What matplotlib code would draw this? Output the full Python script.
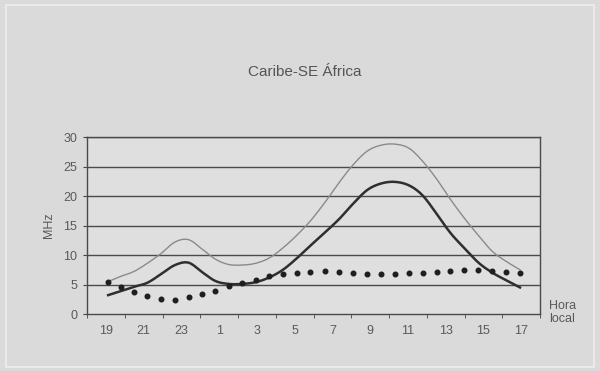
import numpy as np
import matplotlib
matplotlib.use("Agg")
import matplotlib.pyplot as plt
from matplotlib.patches import Rectangle

plt.rcParams['font.family'] = ['Liberation Sans', 'DejaVu Sans']

title = "Caribe-SE África"
categories = ["19", "21", "23", "1", "3", "5", "7", "9", "11", "13", "15", "17"]
y_ticks = [0, 5, 10, 15, 20, 25, 30]

# sample positions in category units (category centers at 0..11)
x_samples = [0.06, 0.40, 0.74, 1.10, 1.47, 1.83, 2.19, 2.55, 2.90, 3.25, 3.61,
             3.97, 4.33, 4.69, 5.05, 5.42, 5.80, 6.18, 6.55, 6.92, 7.28, 7.65,
             8.03, 8.39, 8.76, 9.12, 9.49, 9.87, 10.24, 10.61, 10.97]

upper = [5.5, 6.4, 7.2, 8.6, 10.3, 12.2, 12.6, 11.0, 9.3, 8.4, 8.3, 8.6, 9.5,
         11.2, 13.3, 15.8, 18.9, 22.3, 25.3, 27.6, 28.6, 28.8, 28.1, 25.9,
         22.9, 19.5, 16.3, 13.3, 10.6, 8.9, 7.5]
muf = [3.2, 3.9, 4.6, 5.3, 6.8, 8.3, 8.7, 7.1, 5.6, 5.1, 5.1, 5.4, 6.2, 7.5,
       9.4, 11.6, 13.8, 16.1, 18.7, 21.0, 22.1, 22.4, 21.8, 20.1, 17.0, 13.8,
       11.2, 8.7, 7.0, 5.7, 4.5]
lower = [5.4, 4.5, 3.7, 3.1, 2.6, 2.4, 2.9, 3.4, 3.9, 4.7, 5.3, 5.8, 6.4, 6.7,
         7.0, 7.2, 7.3, 7.1, 6.9, 6.8, 6.7, 6.8, 6.9, 7.0, 7.2, 7.3, 7.5, 7.5,
         7.3, 7.2, 7.0]


def smooth(x, y, n=12):
    """Catmull-Rom smoothing like Excel's smoothed lines."""
    x = np.asarray(x, float)
    y = np.asarray(y, float)
    px = np.concatenate([[2 * x[0] - x[1]], x, [2 * x[-1] - x[-2]]])
    py = np.concatenate([[2 * y[0] - y[1]], y, [2 * y[-1] - y[-2]]])
    xs, ys = [], []
    t = np.linspace(0, 1, n, endpoint=False)
    for i in range(1, len(px) - 2):
        for arr, out in ((px, xs), (py, ys)):
            p0, p1, p2, p3 = arr[i - 1], arr[i], arr[i + 1], arr[i + 2]
            out.extend(0.5 * ((2 * p1) + (-p0 + p2) * t
                              + (2 * p0 - 5 * p1 + 4 * p2 - p3) * t ** 2
                              + (-p0 + 3 * p1 - 3 * p2 + p3) * t ** 3))
    xs.append(x[-1])
    ys.append(y[-1])
    return np.array(xs), np.array(ys)


bg = '#dadada'
fig = plt.figure(figsize=(6.0, 3.71), dpi=100, facecolor=bg)
fig.patches.append(Rectangle((0.01, 0.012), 0.98, 0.975, transform=fig.transFigure,
                             fill=False, edgecolor='#eeeeee', linewidth=1.2))

ax = fig.add_axes([0.145, 0.1536, 0.755, 0.4771])
ax.set_facecolor('#dfdfdf')

xs, ys = smooth(x_samples, upper)
ax.plot(xs, ys, color='#8a8a8a', linewidth=1.0, zorder=3)
xs, ys = smooth(x_samples, muf)
ax.plot(xs, ys, color='#2f2f2f', linewidth=1.8, zorder=4)
ax.plot(x_samples, lower, linestyle='none', marker='o', markersize=3.3,
        color='#1e1e1e', zorder=5)

ax.set_xlim(-0.5, len(categories) - 0.5)
ax.set_ylim(0, 30)
ax.set_yticks(y_ticks)
ax.set_yticklabels([str(v) for v in y_ticks], fontsize=9, color='#5a5a5a')
ax.set_xticks(range(len(categories)))
ax.set_xticklabels(categories, fontsize=9, color='#5a5a5a')
ax.set_xticks(np.arange(-0.5, len(categories), 1.0), minor=True)
ax.tick_params(axis='x', which='major', length=0, pad=8)
ax.tick_params(axis='x', which='minor', length=3, color='#444444', direction='out')
ax.tick_params(axis='y', length=3, color='#444444', direction='out', pad=4)

for v in y_ticks[1:]:
    ax.axhline(v, color='#4a4a4a', linewidth=1.0, zorder=1)
for s in ax.spines.values():
    s.set_color('#4a4a4a')
    s.set_linewidth(1.0)

ax.set_ylabel('MHz', fontsize=9, color='#5a5a5a', labelpad=6)
fig.text(0.508, 0.805, title, ha='center', va='center', fontsize=11, color='#555555')
fig.text(0.937, 0.158, 'Hora\nlocal', ha='center', va='center', fontsize=9,
         color='#5a5a5a', linespacing=1.1)

fig.savefig('out.png', dpi=100, facecolor=bg)
